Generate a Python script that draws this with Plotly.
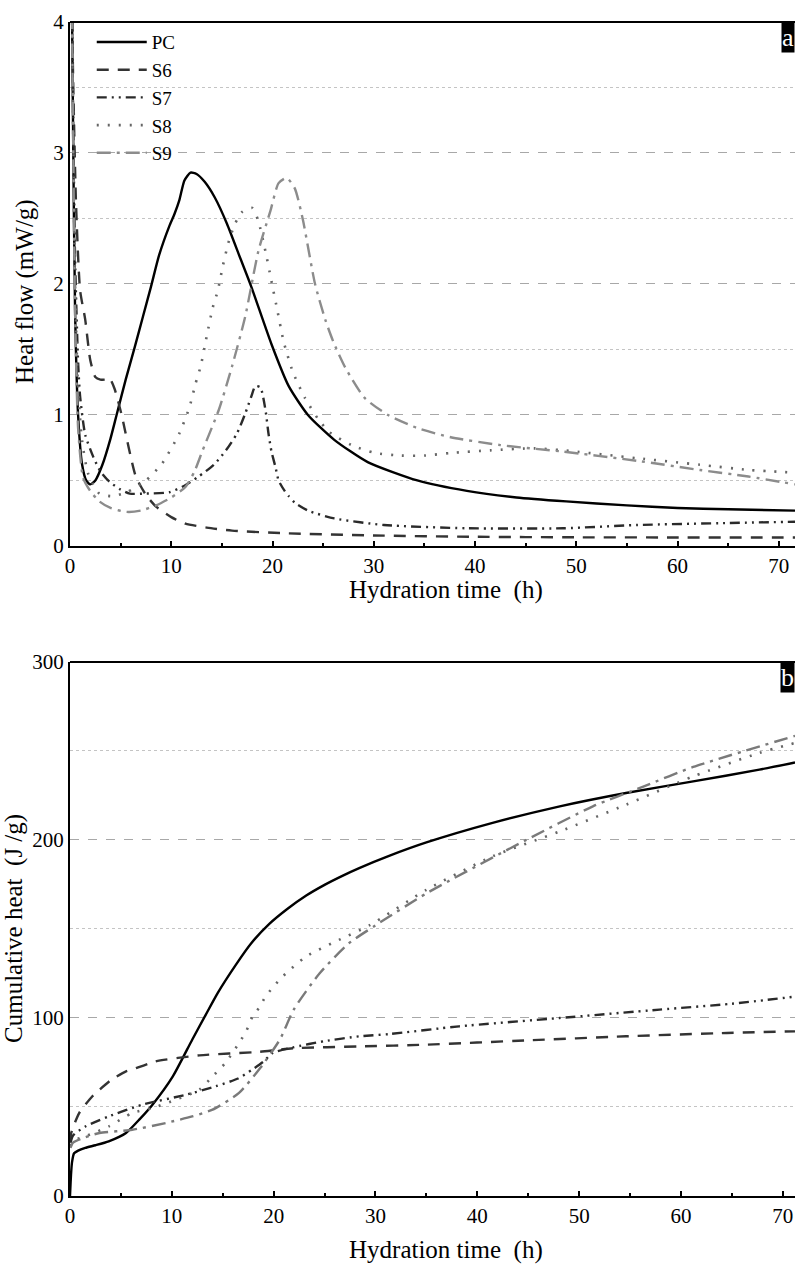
import plotly.graph_objects as go

# ---------- data: heat flow (mW/g) ----------
t_pc = [0.15, 0.3, 0.5, 0.8, 1.2, 1.6, 2.0, 2.5, 3.2, 4.0, 4.6, 5.5, 6.4, 7.2, 8.0, 8.8, 9.8, 10.3,
        10.8, 11.3, 11.9, 12.5, 13.3, 14.3, 15.5, 16.8, 17.9, 19.9, 21.6, 23.5, 26.1, 29.4, 34.3,
        39.2, 44.1, 49.0, 55.0, 60.0, 65.0, 71.6]
hf_pc = [4.5, 3.2, 1.8, 1.0, 0.62, 0.5, 0.47, 0.5, 0.62, 0.82, 1.0, 1.27, 1.52, 1.75, 1.98, 2.22,
         2.44, 2.53, 2.64, 2.79, 2.85, 2.84, 2.78, 2.66, 2.46, 2.2, 1.98, 1.54, 1.22, 1.0, 0.81,
         0.64, 0.5, 0.42, 0.37, 0.34, 0.31, 0.29, 0.28, 0.27]

t_s6 = [0.15, 0.3, 0.6, 1.0, 1.5, 2.0, 2.5, 3.0, 3.5, 3.9, 4.4, 5.1, 5.8, 6.5, 7.5, 8.5, 10.0, 11.4,
        13.5, 16.0, 21.2, 30.0, 40.0, 50.0, 60.0, 71.6]
hf_s6 = [4.5, 3.6, 2.6, 1.95, 1.73, 1.42, 1.29, 1.27, 1.27, 1.28, 1.2, 1.0, 0.75, 0.53, 0.39, 0.30,
         0.22, 0.17, 0.14, 0.117, 0.097, 0.08, 0.07, 0.066, 0.065, 0.065]

t_s7 = [0.15, 0.3, 0.5, 0.8, 1.0, 1.5, 2.3, 3.0, 3.9, 5.0, 5.9, 7.5, 9.8, 11.3, 12.7, 14.2, 15.4,
        16.5, 17.3, 17.9, 18.3, 18.8, 19.3, 19.6, 19.9, 20.3, 20.6, 21.2, 21.6, 22.2, 23.5, 26.1,
        31.0, 39.2, 48.7, 56.0, 65.0, 71.6]
hf_s7 = [4.5, 3.4, 2.2, 1.4, 1.14, 0.85, 0.68, 0.57, 0.49, 0.43, 0.40, 0.40, 0.41, 0.46, 0.53, 0.62,
         0.73, 0.86, 1.01, 1.14, 1.22, 1.21, 1.04, 0.86, 0.72, 0.6, 0.5, 0.42, 0.38, 0.33, 0.27,
         0.21, 0.16, 0.135, 0.135, 0.16, 0.175, 0.185]

t_s8 = [0.15, 0.3, 0.5, 0.8, 1.2, 1.8, 2.9, 4.2, 5.6, 7.5, 9.1, 10.8, 11.8, 12.4, 12.9, 13.5, 14.1,
        14.6, 15.1, 15.7, 16.3, 17.0, 18.0, 18.6, 19.3, 19.9, 20.5, 21.1, 22.0, 23.2, 24.5, 25.6,
        27.8, 30.1, 32.7, 35.0, 37.6, 41.5, 45.8, 48.7, 56.0, 62.2, 67.1, 71.6]
hf_s8 = [4.5, 3.3, 2.0, 1.2, 0.8, 0.55, 0.40, 0.38, 0.41, 0.5, 0.63, 0.86, 1.06, 1.24, 1.37, 1.6,
         1.82, 1.95, 2.14, 2.33, 2.46, 2.55, 2.58, 2.48, 2.25, 2.02, 1.79, 1.56, 1.33, 1.13, 0.97,
         0.87, 0.77, 0.71, 0.69, 0.69, 0.71, 0.73, 0.745, 0.73, 0.67, 0.62, 0.58, 0.56]

t_s9 = [0.15, 0.3, 0.5, 0.8, 1.3, 2.0, 2.9, 4.0, 5.6, 7.0, 8.5, 10.0, 11.4, 12.3, 13.1, 14.7, 16.0,
        17.3, 18.6, 19.8, 20.6, 21.4, 22.2, 23.0, 24.2, 25.2, 26.0, 27.2, 29.1, 31.4, 34.3, 37.6,
        42.5, 48.7, 56.0, 62.2, 67.0, 71.6]
hf_s9 = [4.5, 3.2, 1.8, 0.9, 0.52, 0.42, 0.34, 0.29, 0.26, 0.27, 0.31, 0.37, 0.45, 0.57, 0.73, 1.04,
         1.37, 1.75, 2.25, 2.56, 2.77, 2.81, 2.73, 2.49, 2.0, 1.73, 1.56, 1.36, 1.13, 1.0, 0.9, 0.83,
         0.77, 0.72, 0.65, 0.58, 0.53, 0.47]

# ---------- data: cumulative heat (J/g) ----------
c_t_pc = [0.0, 0.1, 0.2, 0.4, 0.8, 1.5, 2.5, 3.8, 5.5, 6.8, 8.1, 10.1, 12.0, 13.3, 14.5, 16.3,
          17.8, 19.6, 21.4, 23.2, 25.0, 26.8, 28.4, 31.4, 35.0, 41.5, 48.1, 54.6, 61.2, 67.7, 71.2]
ch_pc = [0, 12, 19, 24, 25.5, 27, 28.5, 30.7, 35.4, 42.9, 51.3, 67.2, 87.8, 101.5, 114, 130,
         142, 153, 161.5, 168.8, 174.8, 180, 184.2, 191.2, 198.6, 209.6, 218.9, 226.4, 232.9,
         239.5, 243.5]

c_t_s6 = [0.05, 0.1, 0.9, 2.2, 2.9, 4.0, 5.5, 6.1, 8.4, 12.7, 18.6, 21.9, 28.4, 35.0, 44.8, 54.6,
          64.5, 71.2]
ch_s6 = [30, 35, 46.6, 56, 59.7, 65, 70, 71, 75.6, 79, 81, 83, 84, 85, 87.4, 89.7, 91.6, 92.5]

c_t_s7 = [0.05, 0.3, 1.5, 3.8, 7.1, 11.4, 14.3, 16.5, 17.9, 19.0, 19.9, 21.9, 25.0, 28.4, 31.4,
          38.2, 48.1, 57.9, 65.0, 71.2]
ch_s7 = [30, 34, 39, 44.7, 51.3, 56.9, 61.6, 66, 71, 75.5, 80.3, 83.5, 87, 89.7, 91, 95.3, 100,
         104.7, 108, 112]

c_t_s8 = [0.05, 0.3, 1.5, 3.8, 6.1, 8.1, 10.4, 12.7, 14.0, 15.3, 16.6, 17.3, 17.9, 18.6, 19.2,
          19.9, 20.9, 23.2, 26.1, 29.4, 35.0, 41.5, 48.1, 54.6, 61.2, 67.7, 71.2]
ch_s8 = [28, 31, 33.5, 39, 46.6, 49.4, 54.1, 59.7, 67.2, 75, 86, 92.5, 100.5, 106, 112.1, 117,
         123.4, 134.6, 143, 152, 172, 190.8, 204.8, 219.8, 235.7, 248.9, 254.5]

c_t_s9 = [0.05, 0.3, 1.5, 2.9, 6.1, 9.4, 12.0, 14.0, 16.6, 18.7, 20.6, 22.0, 24.5, 27.4, 30.0,
          35.0, 44.8, 51.4, 56.3, 61.2, 71.2]
ch_s9 = [27, 30, 33, 35.4, 37.2, 41, 44.7, 48.5, 57.9, 72, 87.8, 105, 125, 142, 152, 170, 200,
         219, 230, 241, 258.5]

names = ["PC", "S6", "S7", "S8", "S9"]
x_title = "Hydration time\u00a0 (h)"
y_title_a = "Heat flow (mW/g)"
y_title_b = "Cumulative heat\u00a0 (J /g)"

hf_x = [t_pc, t_s6, t_s7, t_s8, t_s9]
hf_y = [hf_pc, hf_s6, hf_s7, hf_s8, hf_s9]
ch_x = [c_t_pc, c_t_s6, c_t_s7, c_t_s8, c_t_s9]
ch_y = [ch_pc, ch_s6, ch_s7, ch_s8, ch_s9]

styles = [
    dict(color="#000000", dash="solid", width=2.4),
    dict(color="#333333", dash="12px,9px", width=2.4),
    dict(color="#2a2a2a", dash="10px,5px,2px,5px,2px,5px", width=2.4),
    dict(color="#666666", dash="2px,9px", width=2.6),
    dict(color="#8c8c8c", dash="14px,6px,3px,6px", width=2.4),
]

SERIF = "Liberation Serif"

fig = go.Figure()
for i in range(5):
    fig.add_trace(go.Scatter(x=hf_x[i], y=hf_y[i], mode="lines", name=names[i],
                             line=dict(shape="spline", smoothing=0.6, **styles[i]),
                             xaxis="x", yaxis="y", showlegend=True))
for i in range(5):
    st = dict(styles[i])
    if i == 4:
        st["color"] = "#7a7a7a"
    fig.add_trace(go.Scatter(x=ch_x[i], y=ch_y[i], mode="lines", name=names[i],
                             line=dict(shape="spline", smoothing=0.6, **st),
                             xaxis="x2", yaxis="y2", showlegend=False))

tickfont = dict(family=SERIF, size=21, color="black")
titlefont = dict(family=SERIF, size=25, color="black")

common_x = dict(
    showline=True, linecolor="black", linewidth=2, ticks="inside", ticklen=5, tickwidth=1.5,
    tickcolor="black", dtick=10, tick0=0, showgrid=False, zeroline=False, tickfont=tickfont,
    minor=dict(ticks="inside", ticklen=3, dtick=5, tickcolor="black", showgrid=False),
)
common_y = dict(
    showline=True, linecolor="black", linewidth=2, ticks="", zeroline=False, tickfont=tickfont,
    showgrid=True, gridcolor="#a8a8a8", gridwidth=1, griddash="dash",
)

XC = (446 - 70) / 725.0  # horizontal centre of the x-axis titles (paper fraction)

fig.update_layout(
    width=795, height=1266,
    margin=dict(l=70, r=0, t=22, b=70),
    paper_bgcolor="white", plot_bgcolor="white",
    font=dict(family=SERIF, size=21, color="black"),
    xaxis=dict(domain=[0, 1], anchor="y", range=[0, 71.6], **common_x),
    yaxis=dict(domain=[0.5537, 1], anchor="x", range=[0, 4], dtick=1,
               minor=dict(dtick=0.5, showgrid=True, gridcolor="#c4c4c4", griddash="dot", gridwidth=1),
               **common_y),
    xaxis2=dict(domain=[0, 1], anchor="y2", range=[0, 71.2], **common_x),
    yaxis2=dict(domain=[0, 0.4549], anchor="x2", range=[0, 300], dtick=100,
                minor=dict(dtick=50, showgrid=True, gridcolor="#c4c4c4", griddash="dot", gridwidth=1),
                **common_y),
    legend=dict(x=0.03, y=0.999, xanchor="left", yanchor="top",
                bgcolor="rgba(0,0,0,0)", font=dict(family=SERIF, size=19, color="black"),
                tracegroupgap=0, itemwidth=50),
    shapes=[
        dict(type="line", xref="x domain", yref="y domain", x0=0, x1=1, y0=1, y1=1,
             line=dict(color="black", width=2)),
        dict(type="line", xref="x2 domain", yref="y2 domain", x0=0, x1=1, y0=1, y1=1,
             line=dict(color="black", width=2)),
    ],
    annotations=[
        dict(text="a", xref="paper", yref="y domain", x=1, y=1, xanchor="right", yanchor="top",
             showarrow=False, bgcolor="black", font=dict(family=SERIF, size=26, color="white"),
             borderpad=0),
        dict(text="b", xref="paper", yref="y2 domain", x=1, y=1, xanchor="right", yanchor="top",
             showarrow=False, bgcolor="black", font=dict(family=SERIF, size=26, color="white"),
             borderpad=0),
        # axis titles
        dict(text=x_title, xref="paper", yref="y domain", x=XC, y=0, yshift=-44,
             xanchor="center", yanchor="middle", showarrow=False, font=titlefont),
        dict(text=x_title, xref="paper", yref="y2 domain", x=XC, y=0, yshift=-54,
             xanchor="center", yanchor="middle", showarrow=False, font=titlefont),
        dict(text=y_title_a, xref="paper", yref="y domain", x=0, xshift=-45, y=0.5, yshift=-8,
             xanchor="center", yanchor="middle", textangle=-90, showarrow=False, font=titlefont),
        dict(text=y_title_b, xref="paper", yref="y2 domain", x=0, xshift=-56, y=0.5,
             xanchor="center", yanchor="middle", textangle=-90, showarrow=False, font=titlefont),
    ],
)

fig.write_html("out.html")
